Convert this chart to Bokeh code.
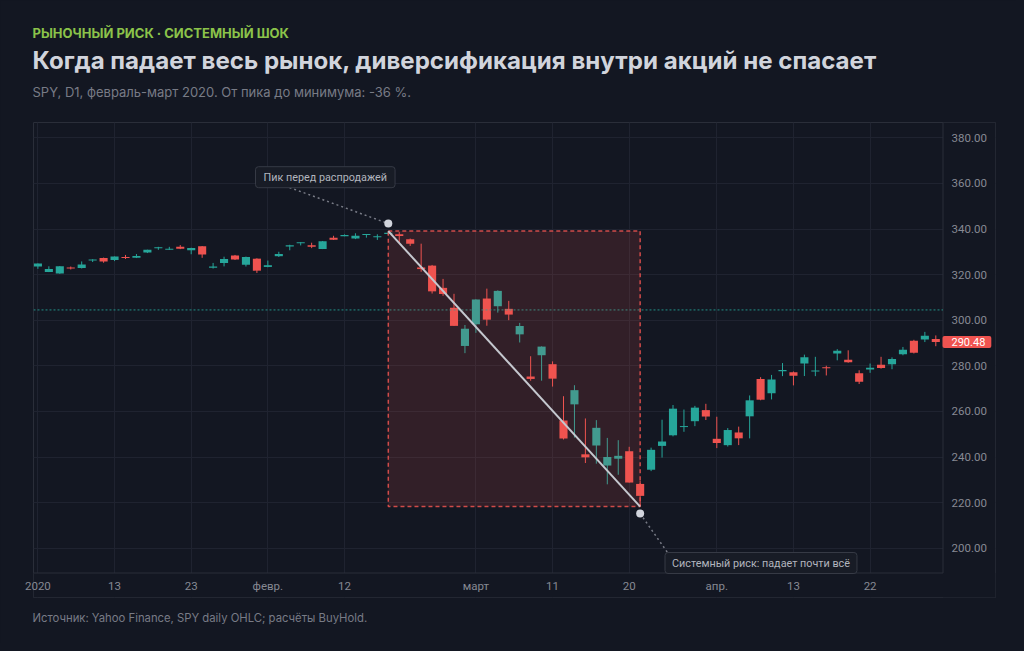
from bokeh.plotting import figure
from bokeh.models import (ColumnDataSource, Range1d, FixedTicker, Label, Title,
                          NumeralTickFormatter, GlobalInlineStyleSheet)
from bokeh.embed import file_html
from bokeh.resources import INLINE

# ---------------- data (SPY daily, Jan 2 - Apr 30 2020) ----------------
dates = [
    "2020-01-02", "2020-01-03", "2020-01-06", "2020-01-07", "2020-01-08", "2020-01-09", "2020-01-10",
    "2020-01-13", "2020-01-14", "2020-01-15", "2020-01-16", "2020-01-17", "2020-01-21", "2020-01-22",
    "2020-01-23", "2020-01-24", "2020-01-27", "2020-01-28", "2020-01-29", "2020-01-30", "2020-01-31",
    "2020-02-03", "2020-02-04", "2020-02-05", "2020-02-06", "2020-02-07", "2020-02-10", "2020-02-11",
    "2020-02-12", "2020-02-13", "2020-02-14", "2020-02-18", "2020-02-19", "2020-02-20", "2020-02-21",
    "2020-02-24", "2020-02-25", "2020-02-26", "2020-02-27", "2020-02-28",
    "2020-03-02", "2020-03-03", "2020-03-04", "2020-03-05", "2020-03-06", "2020-03-09", "2020-03-10",
    "2020-03-11", "2020-03-12", "2020-03-13", "2020-03-16", "2020-03-17", "2020-03-18", "2020-03-19",
    "2020-03-20", "2020-03-23", "2020-03-24", "2020-03-25", "2020-03-26", "2020-03-27", "2020-03-30",
    "2020-03-31",
    "2020-04-01", "2020-04-02", "2020-04-03", "2020-04-06", "2020-04-07", "2020-04-08", "2020-04-09",
    "2020-04-13", "2020-04-14", "2020-04-15", "2020-04-16", "2020-04-17", "2020-04-20", "2020-04-21",
    "2020-04-22", "2020-04-23", "2020-04-24", "2020-04-27", "2020-04-28", "2020-04-29", "2020-04-30",
]
opens = [
    323.54, 321.16, 320.49, 323.02, 322.94, 326.16, 327.29, 326.39, 327.47, 327.35, 329.71, 331.70, 330.90,
    332.26, 330.63, 332.44, 323.03, 325.06, 328.38, 324.36, 327.00,
    323.35, 328.07, 332.27, 333.91, 332.82, 331.23, 336.17, 336.83, 335.86, 337.51, 336.51, 337.79, 337.74,
    335.47, 323.14, 323.94, 314.18, 305.46, 288.70,
    298.21, 309.50, 306.12, 304.98, 293.79, 275.30, 284.64, 280.70, 256.00, 263.09, 241.18, 245.04, 236.25,
    239.25, 242.53, 228.19, 234.42, 244.87, 249.52, 253.27, 255.70, 260.56,
    247.98, 245.19, 250.76, 257.84, 274.21, 267.96, 277.58, 277.14, 280.98, 277.57, 279.15, 285.38, 282.61,
    276.73, 278.35, 280.49, 280.73, 285.12, 291.02, 291.53, 291.71,
]
highs = [
    324.89, 323.64, 323.73, 323.54, 325.78, 326.73, 327.46, 327.96, 328.62, 329.02, 330.92, 332.18, 332.18,
    332.95, 331.80, 332.54, 325.12, 327.85, 328.63, 327.91, 327.17,
    326.16, 330.01, 333.09, 334.19, 333.99, 334.75, 337.02, 337.64, 338.12, 337.73, 337.67, 339.08, 338.64,
    335.81, 333.56, 324.24, 318.11, 311.56, 297.89,
    309.16, 313.84, 313.10, 308.47, 298.82, 284.19, 288.52, 281.94, 266.66, 271.48, 256.90, 256.17, 248.37,
    247.38, 244.47, 229.68, 244.10, 256.35, 262.80, 260.81, 262.43, 263.33,
    257.66, 252.68, 253.32, 267.00, 275.03, 276.00, 281.20, 277.51, 284.90, 283.94, 280.03, 287.30, 286.79,
    278.04, 281.00, 283.94, 283.70, 288.27, 291.40, 294.88, 293.32,
]
lows = [
    322.53, 321.10, 320.36, 322.24, 322.67, 325.52, 325.20, 325.92, 326.84, 327.26, 329.45, 330.86, 330.82,
    331.17, 328.93, 327.36, 322.66, 323.60, 326.40, 323.54, 320.73,
    323.22, 327.72, 330.67, 332.80, 331.60, 331.19, 335.17, 336.81, 335.56, 336.20, 335.21, 337.48, 333.68,
    332.58, 321.24, 311.69, 310.70, 297.51, 285.54,
    294.46, 297.57, 303.33, 300.01, 290.23, 273.45, 273.46, 270.88, 247.68, 248.52, 237.36, 237.07, 228.02,
    232.22, 228.80, 218.26, 233.80, 239.75, 249.05, 251.05, 253.53, 256.22,
    243.90, 244.59, 245.22, 248.17, 264.89, 265.25, 275.47, 271.41, 275.51, 275.46, 275.76, 282.40, 281.35,
    272.02, 276.91, 278.75, 278.50, 284.62, 285.40, 290.41, 288.59,
]
closes = [
    324.87, 322.41, 323.64, 322.73, 324.45, 326.65, 325.71, 327.95, 327.45, 328.19, 330.92, 331.95, 331.30,
    331.34, 331.72, 328.77, 323.50, 326.89, 326.62, 327.68, 321.73,
    324.12, 329.06, 332.86, 333.98, 332.20, 334.68, 335.26, 337.42, 337.06, 337.60, 336.73, 338.34, 336.95,
    333.48, 322.42, 312.65, 311.50, 297.51, 296.26,
    309.09, 300.24, 312.86, 302.46, 297.46, 274.23, 288.42, 274.36, 248.11, 269.32, 239.85, 252.80, 240.00,
    240.51, 228.80, 222.95, 243.15, 246.79, 261.20, 253.42, 261.65, 257.75,
    246.15, 251.83, 248.19, 264.86, 265.13, 274.03, 278.20, 275.66, 283.79, 277.76, 279.10, 286.64, 281.59,
    273.04, 279.10, 279.08, 282.97, 287.05, 285.73, 293.21, 290.48,
]

tick_dates = ["2020-01-02", "2020-01-13", "2020-01-23", "2020-02-03", "2020-02-12", "2020-03-02",
              "2020-03-11", "2020-03-20", "2020-04-01", "2020-04-13", "2020-04-22"]
tick_labels = ["2020", "13", "23", "февр.", "12", "март", "11", "20", "апр.", "13", "22"]
price_ticks = [200, 220, 240, 260, 280, 300, 320, 340, 360, 380]

kicker_text = "РЫНОЧНЫЙ РИСК · СИСТЕМНЫЙ ШОК"
title_text = "Когда падает весь рынок, диверсификация внутри акций не спасает"
subtitle_text = "SPY, D1, февраль-март 2020. От пика до минимума: -36 %."
source_text = "Источник: Yahoo Finance, SPY daily OHLC; расчёты BuyHold."
peak_note = "Пик перед распродажей"
trough_note = "Системный риск: падает почти всё"

# ---------------- styling / layout ----------------
BG = "#131722"
BORDER = "#2a2e39"
GRID = "#1f2330"
AXIS_TXT = "#868993"
UP = "#26a69a"
DOWN = "#ef5350"
MUTED = "#787b86"
HEAD_FONT = "Inter"

FIG_W, FIG_H = 1016, 643
FR_L, FR_R, FR_T, FR_B = 33, 995, 122, 597     # chart container in page pixels
PRICE_SEP_X = 942.5                           # price scale separator
TIME_SEP_Y = 572.5                            # time scale separator
BAR_PX = 10.95
FIRST_BAR_X = 37.4
PX_PER_USD = 2.28
Y_REF_PX, Y_REF = 137.3, 380.0


def dx(px):
    return (px - FIRST_BAR_X) / BAR_PX


def dy(py):
    return Y_REF - (py - Y_REF_PX) / PX_PER_USD


X_LO, X_HI = dx(FR_L), dx(FR_R)
Y_HI, Y_LO = dy(FR_T), dy(FR_B)

p = figure(width=FIG_W, height=FIG_H,
           x_range=Range1d(X_LO, X_HI), y_range=Range1d(Y_LO, Y_HI),
           y_axis_location="right", toolbar_location=None, output_backend="svg",
           min_border_left=FR_L, min_border_right=FIG_W - FR_R,
           min_border_top=FR_T, min_border_bottom=FIG_H - FR_B,
           background_fill_color=BG, border_fill_color=BG,
           outline_line_color=BORDER, outline_line_width=1)
p.stylesheets = [GlobalInlineStyleSheet(css="html, body { background-color: #131722; }")]

# axes (labels drawn inside the chart container, like a trading terminal)
idx = list(range(len(dates)))
tick_idx = [dates.index(d) for d in tick_dates]
xticker = FixedTicker(ticks=tick_idx)
yticker = FixedTicker(ticks=price_ticks)
p.xaxis.ticker = xticker
p.xgrid.ticker = xticker
p.yaxis.ticker = yticker
p.ygrid.ticker = yticker
p.xaxis.major_label_overrides = {i: lab for i, lab in zip(tick_idx, tick_labels)}
p.yaxis.formatter = NumeralTickFormatter(format="0.00")
for ax in (p.xaxis, p.yaxis):
    ax.axis_line_color = None
    ax.major_tick_line_color = None
    ax.minor_tick_line_color = None
    ax.major_tick_out = 0
    ax.major_tick_in = 0
    ax.major_label_text_color = AXIS_TXT
    ax.major_label_text_font = "Roboto"
    ax.major_label_text_font_size = "11.5px"
p.xaxis.major_label_standoff = -19
p.yaxis.major_label_standoff = -44
p.xgrid.grid_line_color = GRID
p.ygrid.grid_line_color = GRID

# scale areas: cover grid, draw separators
p.quad(left=[dx(PRICE_SEP_X)], right=[X_HI], top=[Y_HI], bottom=[Y_LO], fill_color=BG, line_color=None)
p.quad(left=[X_LO], right=[X_HI], top=[dy(TIME_SEP_Y)], bottom=[Y_LO], fill_color=BG, line_color=None)
p.segment(x0=[X_LO], y0=[dy(TIME_SEP_Y)], x1=[dx(PRICE_SEP_X)], y1=[dy(TIME_SEP_Y)],
          line_color=BORDER, line_width=1)
p.segment(x0=[dx(PRICE_SEP_X)], y0=[Y_HI], x1=[dx(PRICE_SEP_X)], y1=[dy(TIME_SEP_Y)],
          line_color=BORDER, line_width=1)

# candles
min_body = 1.0 / PX_PER_USD
tops, bottoms, colors = [], [], []
for o, c in zip(opens, closes):
    hi, lo = max(o, c), min(o, c)
    if hi - lo < min_body:
        mid = (hi + lo) / 2
        hi, lo = mid + min_body / 2, mid - min_body / 2
    tops.append(hi)
    bottoms.append(lo)
    colors.append(UP if c >= o else DOWN)
src = ColumnDataSource(dict(x=idx, high=highs, low=lows, top=tops, bottom=bottoms, color=colors))
p.segment(x0="x", y0="low", x1="x", y1="high", source=src, line_color="color", line_width=1)
p.vbar(x="x", width=0.74, top="top", bottom="bottom", source=src, fill_color="color", line_color=None)

# -10% from peak level
peak_i = max(idx, key=lambda i: highs[i])
trough_i = min(idx, key=lambda i: lows[i])
threshold = closes[peak_i] * 0.9
p.segment(x0=[X_LO], y0=[threshold], x1=[dx(PRICE_SEP_X)], y1=[threshold], line_color=UP,
          line_alpha=0.85, line_dash="2 2", line_width=1)

# drawdown zone
p.quad(left=[peak_i], right=[trough_i], top=[highs[peak_i]], bottom=[lows[trough_i]],
       fill_color=DOWN, fill_alpha=0.14, line_color=DOWN, line_alpha=0.85,
       line_dash="4 3", line_width=1.5)

# peak -> trough line
p.line([peak_i, trough_i], [highs[peak_i], lows[trough_i]], line_color="#c5c8cf", line_width=2)

peak_mark_y = highs[peak_i] + 7.5 / PX_PER_USD
trough_mark_y = lows[trough_i] - 7.0 / PX_PER_USD

# connectors
p.line([dx(289), peak_i], [dy(187), peak_mark_y], line_color=MUTED, line_width=1.5, line_dash="2 3")
p.line([trough_i, dx(667)], [trough_mark_y, dy(552)], line_color=MUTED, line_width=1.5, line_dash="2 3")

p.scatter([peak_i, trough_i], [peak_mark_y, trough_mark_y], size=8, fill_color="#d1d4dc", line_color=None)

# notes
note_style = dict(text_align="left", text_baseline="middle", text_font="Roboto", text_font_size="10.8px",
                  text_color="#b2b5be", background_fill_color="#181c26", border_line_color="#363a45",
                  border_line_width=1, border_radius=3)
p.add_layout(Label(x=dx(255), y=dy(176.7), text=peak_note,
                   padding=dict(left=8, right=8, top=4, bottom=4), **note_style))
p.add_layout(Label(x=dx(664.5), y=dy(562.5), text=trough_note,
                   padding=dict(left=7, right=7, top=4, bottom=4), **note_style))

# last price tag
p.add_layout(Label(x=dx(942), y=closes[-1], text=f"{closes[-1]:.2f}", text_align="left",
                   text_baseline="middle", text_font="Roboto", text_font_size="11px",
                   text_color="#ffffff", background_fill_color=DOWN,
                   padding=dict(left=9, right=6, top=2, bottom=2), border_radius=2))

# header (stacked from the chart upwards) and footer
p.add_layout(Title(text=" ", align="left", standoff=15, text_font=HEAD_FONT, text_font_size="1px",
                   text_color=BG), "above")
p.add_layout(Title(text=subtitle_text, align="left", offset=-1, standoff=10,
                   text_font=HEAD_FONT, text_font_style="normal", text_font_size="13px",
                   text_color=MUTED), "above")
p.add_layout(Title(text=title_text, align="left", offset=-1, standoff=3,
                   text_font=HEAD_FONT, text_font_style="bold", text_font_size="24.1px",
                   text_color="#d1d4dc"), "above")
p.add_layout(Title(text=kicker_text, align="left", offset=-1, standoff=3,
                   text_font=HEAD_FONT, text_font_style="bold", text_font_size="13px",
                   text_color="#8bc34a"), "above")
p.add_layout(Title(text=source_text, align="left", offset=-1, standoff=23,
                   text_font=HEAD_FONT, text_font_style="normal", text_font_size="11.3px",
                   text_color=MUTED), "below")

open("out.html", "w").write(file_html(p, INLINE))
